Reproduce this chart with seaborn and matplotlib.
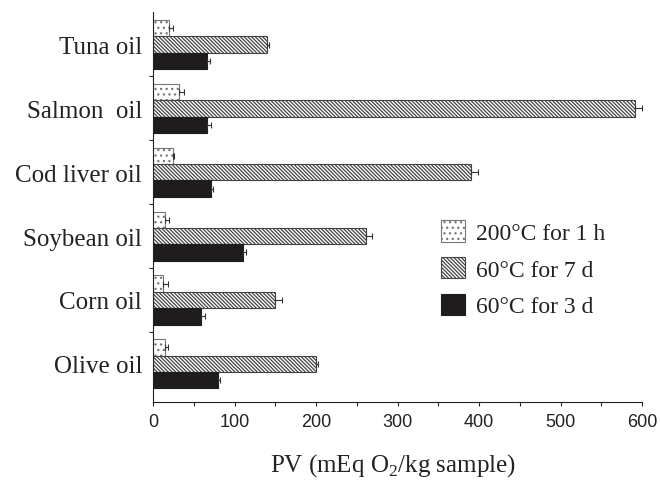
import matplotlib
matplotlib.use("Agg")
import matplotlib.pyplot as plt
import seaborn as sns
import pandas as pd
import numpy as np
from matplotlib.patches import Patch
from matplotlib.ticker import MultipleLocator, FixedLocator

oils = ["Tuna oil", "Salmon  oil", "Cod liver oil", "Soybean oil", "Corn oil", "Olive oil"]
conditions = ["200°C for 1 h", "60°C for 7 d", "60°C for 3 d"]
pv_200c_1h = [20, 32, 24, 15, 12, 15]
pv_60c_7d = [140, 591, 390, 261, 150, 200]
pv_60c_3d = [66, 66, 71, 110, 59, 79]
err_200c_1h = [4, 6, 2, 4, 6, 3]
err_60c_7d = [2, 9, 9, 7, 8, 2]
err_60c_3d = [4, 5, 3, 4, 5, 3]

values = [pv_200c_1h, pv_60c_7d, pv_60c_3d]
errors = [err_200c_1h, err_60c_7d, err_60c_3d]

rows = []
for c, vals in zip(conditions, values):
    for o, v in zip(oils, vals):
        rows.append({"oil": o, "cond": c, "pv": v})
df = pd.DataFrame(rows)

sns.set_style("ticks")
plt.rcParams["hatch.linewidth"] = 0.9
plt.rcParams["mathtext.fontset"] = "custom"
plt.rcParams["mathtext.rm"] = "Liberation Serif"

fig = plt.figure(figsize=(6.6, 4.81), dpi=100)
ax = fig.add_axes([0.232, 0.162, 0.741, 0.811])

palette = {conditions[0]: "white", conditions[1]: "white", conditions[2]: "#1e1c1c"}
sns.barplot(data=df, y="oil", x="pv", hue="cond", order=oils, hue_order=conditions,
            palette=palette, orient="h", width=0.77, errorbar=None, ax=ax,
            edgecolor="#555555", linewidth=0.8, legend=False)

HATCH7 = "\\" * 9
HATCH1 = "..."
hatches = [HATCH1, HATCH7, ""]
bars_by_cond = list(ax.containers)
for ci, cont in enumerate(bars_by_cond):
    for bi, patch in enumerate(cont.patches):
        patch.set_hatch(hatches[ci])
        if ci == 2:
            patch.set_edgecolor("#1e1c1c")
        elif ci == 1:
            patch.set_edgecolor("#444444")
        else:
            patch.set_edgecolor("#777777")
        yc = patch.get_y() + patch.get_height() / 2
        xv = patch.get_width()
        ax.errorbar(xv, yc, xerr=[[0], [errors[ci][bi]]], fmt="none",
                    ecolor="#333333", elinewidth=0.8, capsize=2.5, capthick=0.8)

ax.set_xlim(0, 600)
ax.set_ylim(5.6, -0.51)
ax.xaxis.set_major_locator(MultipleLocator(100))
ax.xaxis.set_minor_locator(MultipleLocator(50))
ax.yaxis.set_minor_locator(FixedLocator(np.arange(0.5, 5.5, 1.0)))
ax.tick_params(axis="y", which="major", length=0, pad=8)
ax.tick_params(axis="y", which="minor", length=3, width=0.8, direction="out")
ax.tick_params(axis="x", which="both", length=3, width=0.8, direction="out", pad=5)
for lab in ax.get_xticklabels():
    lab.set_fontfamily("Liberation Sans")
    lab.set_fontsize(13)
    lab.set_color("#222222")
for lab in ax.get_yticklabels():
    lab.set_fontfamily("Liberation Serif")
    lab.set_fontsize(18)
    lab.set_color("#222222")

ax.set_ylabel("")
ax.set_xlabel("PV (mEq O$_2$/kg sample)", fontfamily="Liberation Serif", fontsize=18,
              color="#222222")
ax.xaxis.set_label_coords(0.49, -0.16)
ax.xaxis.label.set_va("center")

sns.despine(ax=ax, top=True, right=True)
for s in ["left", "bottom"]:
    ax.spines[s].set_linewidth(0.8)
    ax.spines[s].set_color("#222222")

handles = [
    Patch(facecolor="white", edgecolor="#777777", hatch=HATCH1, linewidth=0.8),
    Patch(facecolor="white", edgecolor="#444444", hatch=HATCH7, linewidth=0.8),
    Patch(facecolor="#1e1c1c", edgecolor="#1e1c1c", linewidth=0.8),
]
leg = ax.legend(handles, conditions, loc="upper left", bbox_to_anchor=(0.545, 0.52),
                frameon=False, prop={"family": "Liberation Serif", "size": 17},
                handlelength=1.0, handleheight=1.0, labelspacing=0.55, handletextpad=0.5)
for t in leg.get_texts():
    t.set_color("#222222")

fig.savefig("out.png", dpi=100)
